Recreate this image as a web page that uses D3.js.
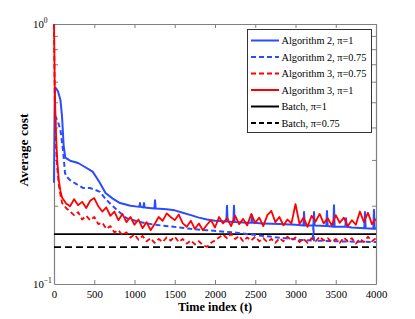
<!DOCTYPE html>
<html><head><meta charset="utf-8">
<script src="https://cdn.jsdelivr.net/npm/d3@7"></script>
<style>body{margin:0;background:#fff}</style>
</head><body><svg id="c" width="415" height="319"></svg>
<script>
// ---------- data ----------
const xTicks = [0,500,1000,1500,2000,2500,3000,3500,4000];
const yMinorTicks = [0.2,0.3,0.4,0.5,0.6,0.7,0.8,0.9];
const seriesNames = ["Algorithm 2, \u03c0=1","Algorithm 2, \u03c0=0.75","Algorithm 3, \u03c0=0.75","Algorithm 3, \u03c0=1","Batch, \u03c0=1","Batch, \u03c0=0.75"];

const alg2p1T = [0,10,20,35,50,65,80,100,120,140,200,300,400,480,560,640,730,820,950,1060,1068,1076,1110,1118,1126,1247,1255,1263,1400,1500,1600,1700,1800,1900,2000,2141,2149,2157,2228,2236,2244,2400,2452,2460,2468,2600,2800,3000,3098,3106,3114,3222,3230,3238,3383,3391,3399,3470,3478,3486,3619,3627,3635,3700,3855,3863,3871,3967,3975,3983,4000];
const alg2p1V = [0.245,0.55,0.568,0.56,0.55,0.53,0.51,0.44,0.34,0.306,0.298,0.292,0.28,0.2705,0.248,0.2239,0.213,0.2048,0.2,0.198,0.2048,0.198,0.197,0.2048,0.197,0.195,0.21,0.195,0.194,0.192,0.188,0.184,0.18,0.177,0.175,0.174,0.2,0.174,0.173,0.2,0.173,0.172,0.172,0.184,0.172,0.171,0.17,0.169,0.168,0.189,0.168,0.168,0.189,0.168,0.167,0.191,0.167,0.166,0.201,0.166,0.166,0.179,0.166,0.165,0.164,0.189,0.164,0.163,0.193,0.163,0.163];

const alg2p075T = [0,20,50,80,100,116,137,160,199,280,365,447,500,571,654,778,903,1068,1250,1482,1700,1896,2224,2600,3050,3215,3222,3230,3500,4000];
const alg2p075V = [0.438,0.44,0.42,0.391,0.35,0.319,0.267,0.258,0.251,0.242,0.234,0.234,0.231,0.226,0.21,0.193,0.179,0.173,0.169,0.166,0.163,0.161,0.158,0.153,0.148,0.147,0.168,0.147,0.146,0.145];

const alg3T = [0,10,25,40,60,80,100,150,200,250,300,350,400,450,500,550,600,650,700,750,800,850,900,950,1000,1050,1100,1150,1200,1250,1300,1350,1400,1450,1500,1550,1600,1650,1700,1750,1800,1850,1900,1950,2000,2050,2100,2150,2200,2250,2300,2350,2400,2450,2500,2550,2600,2650,2700,2750,2800,2850,2900,2950,3000,3050,3100,3150,3200,3250,3300,3350,3400,3450,3500,3550,3600,3650,3700,3750,3800,3850,3900,3950,4000];
const alg3p1V = [1.0,0.55,0.38,0.3,0.25,0.228,0.215,0.204,0.199,0.212,0.201,0.207,0.196,0.209,0.214,0.199,0.19,0.197,0.183,0.19,0.176,0.186,0.173,0.181,0.169,0.177,0.164,0.173,0.161,0.17,0.181,0.175,0.187,0.181,0.176,0.185,0.171,0.166,0.175,0.163,0.171,0.161,0.169,0.176,0.165,0.181,0.171,0.179,0.167,0.183,0.17,0.178,0.168,0.186,0.172,0.18,0.167,0.184,0.191,0.173,0.181,0.168,0.177,0.171,0.203,0.17,0.18,0.166,0.183,0.174,0.186,0.171,0.179,0.168,0.184,0.172,0.18,0.167,0.176,0.169,0.19,0.173,0.188,0.17,0.178];
const alg3p075V = [1.0,0.5,0.34,0.28,0.24,0.22,0.205,0.196,0.19,0.184,0.189,0.177,0.183,0.176,0.181,0.17,0.172,0.163,0.167,0.158,0.161,0.154,0.158,0.151,0.155,0.148,0.153,0.146,0.15,0.144,0.149,0.145,0.151,0.147,0.152,0.145,0.149,0.143,0.147,0.142,0.146,0.141,0.139,0.144,0.147,0.151,0.155,0.15,0.156,0.149,0.153,0.146,0.151,0.147,0.152,0.146,0.15,0.145,0.149,0.144,0.15,0.146,0.152,0.147,0.151,0.145,0.149,0.144,0.15,0.146,0.152,0.147,0.15,0.145,0.149,0.144,0.151,0.146,0.15,0.143,0.149,0.145,0.152,0.146,0.15];

const batchP1 = 0.1556;
const batchP075 = 0.1387;

// ---------- layout ----------
const L=54, R=376, T=24, B=284;
const svg = d3.select("#c");
const x = d3.scaleLinear().domain([0,4000]).range([L,R]);
const y = d3.scaleLog().domain([0.1,1]).range([B,T]);
const FONT = '"Liberation Serif", "Times New Roman", serif';
const BLUE = "#2a4cff", RED = "#ff0000";

// ---------- axes (drawn first, lines on top) ----------
const axCol = "#808080";
const gx = svg.append("g").attr("transform",`translate(0,${B})`)
  .call(d3.axisBottom(x).tickValues(xTicks).tickSizeInner(-4).tickSizeOuter(0).tickPadding(6).tickFormat(d3.format("d")));
const gxt = svg.append("g").attr("transform",`translate(0,${T})`)
  .call(d3.axisTop(x).tickValues(xTicks).tickSizeInner(-4).tickSizeOuter(0).tickFormat(""));
const gy = svg.append("g").attr("transform",`translate(${L},0)`)
  .call(d3.axisLeft(y).tickValues(yMinorTicks).tickSizeInner(-4).tickSizeOuter(0).tickFormat(""));
const gyr = svg.append("g").attr("transform",`translate(${R},0)`)
  .call(d3.axisRight(y).tickValues(yMinorTicks).tickSizeInner(-4).tickSizeOuter(0).tickFormat(""));
[gx,gxt,gy,gyr].forEach(g=>{
  g.selectAll(".domain").attr("stroke",axCol).attr("stroke-width",1.2);
  g.selectAll(".tick line").attr("stroke",axCol);
  g.selectAll("text").style("font-family",FONT).style("font-size","10.8px").attr("fill","#000");
});
function pow10(val,exp){
  const t = svg.append("text").attr("x",33).attr("y",y(val)+4).attr("text-anchor","start")
    .style("font-family",FONT).style("font-size","10.8px").attr("fill","#000");
  t.append("tspan").text("10");
  t.append("tspan").attr("dy",-5).style("font-size","7.5px").text(exp);
}
pow10(1,"0");
pow10(0.1,"\u22121");

svg.append("text").attr("x",215).attr("y",311).attr("text-anchor","middle")
  .style("font-family",FONT).style("font-weight","bold").style("font-size","12.3px").text("Time index (t)");
svg.append("text").attr("transform","translate(28,150) rotate(-90)").attr("text-anchor","middle")
  .style("font-family",FONT).style("font-weight","bold").style("font-size","13.5px").text("Average cost");

// ---------- lines ----------
svg.append("defs").append("clipPath").attr("id","clip")
  .append("rect").attr("x",L-1).attr("y",T-1).attr("width",R-L+1).attr("height",B-T+2);
const plot = svg.append("g").attr("clip-path","url(#clip)");
const line = d3.line().x(d=>x(d[0])).y(d=>y(d[1]));
const zip = (a,b)=>a.map((t,i)=>[t,b[i]]);
function drawLine(data,color,dash,w){
  plot.append("path").datum(data).attr("d",line).attr("fill","none")
    .attr("stroke",color).attr("stroke-width",w).attr("stroke-dasharray",dash)
    .attr("stroke-linejoin","round");
}
drawLine([[0,batchP1],[4000,batchP1]],"#000",null,1.8);
drawLine([[0,batchP075],[4000,batchP075]],"#000","7,4",1.8);
drawLine(zip(alg2p075T,alg2p075V),BLUE,"5,3",2);
drawLine(zip(alg2p1T,alg2p1V),BLUE,null,2);
drawLine(zip(alg3T,alg3p075V),RED,"5,3",1.8);
drawLine(zip(alg3T,alg3p1V),RED,null,1.8);

// ---------- legend ----------
const lg = svg.append("g");
lg.append("rect").attr("x",247.5).attr("y",29.5).attr("width",124).attr("height",103)
  .attr("fill","#fff").attr("stroke","#333").attr("stroke-width",1);
const legStyles = [[BLUE,null],[BLUE,"5,3"],[RED,"5,3"],[RED,null],["#000",null],["#000","5,3"]];
seriesNames.forEach((n,i)=>{
  const yy = 40.5 + i*16.5;
  lg.append("line").attr("x1",251).attr("x2",279).attr("y1",yy).attr("y2",yy)
    .attr("stroke",legStyles[i][0]).attr("stroke-width",2).attr("stroke-dasharray",legStyles[i][1]);
  lg.append("text").attr("x",281.5).attr("y",yy+3.8).style("font-family",FONT).style("font-size","10.3px")
    .text(n);
});
</script>
</body></html>
